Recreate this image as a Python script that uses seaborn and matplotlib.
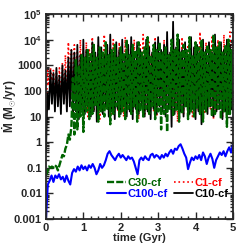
import numpy as np
import matplotlib
matplotlib.use("Agg")
import matplotlib.pyplot as plt
from matplotlib.ticker import FixedLocator, FixedFormatter, MultipleLocator, LogLocator, NullFormatter
import seaborn as sns

# log10 of accretion rate (Msun/yr), sampled every 0.04 Gyr from 0 to 5
red_c1 = [0.5, 2.8, 2.2, 2.9, 2.4, 2.8, 1.9, 2.7, 1.6, 2.9,
          1.5, 3.1, 1.7, 3.4, 1.4, 3.9, 1.8, 3.6, 1.2, 3.8,
          1.5, 3.5, 1.1, 4.0, 1.6, 3.3, 1.3, 3.9, 1.0, 3.6,
          1.4, 4.1, 1.2, 3.4, 1.7, 3.8, 0.9, 3.5, 1.5, 4.2,
          1.3, 3.7, 1.6, 3.3, 1.1, 4.0, 1.4, 3.6, 1.2, 3.9,
          1.5, 3.4, 1.0, 4.1, 1.3, 3.7, 1.6, 3.5, 1.2, 4.0,
          1.4, 3.3, 0.9, 3.8, 1.5, 4.2, 1.1, 3.6, 1.3, 3.9,
          1.6, 3.5, 1.2, 4.1, 1.0, 3.7, 1.4, 3.4, 1.5, 4.0,
          1.1, 3.8, 1.3, 3.5, 1.6, 4.2, 1.2, 3.6, 0.8, 3.9,
          1.4, 4.1, 1.1, 3.4, 1.5, 3.8, 1.3, 4.0, 1.0, 3.7,
          1.6, 3.5, 1.2, 4.3, 1.4, 3.6, 1.1, 3.9, 1.5, 3.4,
          1.3, 4.1, 0.9, 3.7, 1.2, 4.0, 1.6, 3.5, 1.0, 4.2,
          1.4, 3.8, 1.2, 4.3, 1.5, 3.9]

black_c10 = [-0.4, 1.9, 1.3, 2.8, 1.5, 2.7, 1.2, 2.9, 1.4, 2.6,
             1.1, 3.0, 1.5, 2.8, 1.2, 3.3, 1.4, 3.6, 1.0, 3.5,
             1.2, 3.8, 0.9, 3.4, 1.3, 4.0, 1.1, 3.6, 1.4, 3.3,
             1.0, 3.9, 1.2, 3.5, 0.8, 4.1, 1.3, 3.7, 1.1, 3.4,
             1.4, 3.8, 1.0, 4.2, 1.2, 3.5, 0.9, 3.9, 1.3, 3.6,
             1.1, 4.0, 1.4, 3.4, 1.0, 3.8, 1.2, 4.1, 0.9, 3.5,
             1.3, 3.9, 1.1, 3.6, 1.4, 3.3, 1.0, 4.0, 1.2, 3.7,
             0.9, 3.5, 1.3, 3.9, 1.1, 4.1, 1.4, 3.6, 1.2, 3.8,
             1.0, 4.3, 1.3, 3.5, 0.6, 4.7, 1.1, 3.7, 1.3, 4.0,
             1.2, 3.6, 1.0, 3.9, 1.4, 3.4, 1.1, 4.1, 1.3, 3.7,
             0.9, 3.8, 1.2, 3.5, 0.7, 4.0, 1.3, 3.6, 1.1, 3.9,
             1.4, 3.5, 1.0, 4.2, 1.2, 3.7, 1.3, 3.9, 0.9, 3.6,
             1.2, 4.0, 1.1, 3.8, 1.3, 3.5]

green_c30 = [-1.3, -1.15, -0.95, -1.0, -0.95, -1.0, -0.9, -0.95, -1.1, -0.9,
             -0.7, -0.5, -0.55, -0.25, -0.1, 0.3, 0.1, 0.6, 2.5, 0.3,
             3.2, 0.5, 3.0, 1.0, 3.4, 0.4, 3.3, 1.2, 3.6, 0.9,
             3.5, 1.1, 3.8, 1.4, 3.3, 0.8, 3.7, 1.2, 3.5, 1.0,
             3.9, 1.3, 3.4, 0.7, 3.6, 1.1, 3.8, 1.4, 3.3, 1.0,
             3.7, 1.2, 3.5, 0.9, 4.0, 1.3, 3.4, 1.1, 3.8, 1.4,
             3.6, 0.8, 3.9, 1.2, 3.5, 1.0, 3.7, 1.3, 4.1, 1.1,
             3.4, 1.4, 3.8, 0.9, 3.6, 1.2, 3.9, 0.5, 3.5, 1.1,
             3.7, 0.4, 3.4, 1.3, 4.0, 1.0, 3.6, 1.2, 4.2, 0.8,
             3.5, 1.1, 3.8, 1.4, 3.6, 0.9, 4.1, 1.2, 3.4, 1.0,
             3.9, 1.3, 3.7, 1.1, 4.0, 0.8, 3.5, 1.2, 3.8, 1.4,
             3.6, 1.0, 4.2, 1.1, 3.7, 1.3, 3.9, 0.9, 3.5, 1.2,
             3.8, 0.6, 4.0, 1.1, 3.6, 1.3]

# log10 of accretion rate, sampled every 0.05 Gyr from 0 to 5
blue_c100 = [-3.0, -1.65, -1.5, -1.3, -1.55, -1.3, -1.4, -1.25, -1.45, -1.35,
             -1.55, -1.3, -1.5, -1.65, -1.2, -1.05, -1.15, -0.95, -1.1, -0.9,
             -1.05, -0.95, -1.1, -0.9, -1.0, -0.85, -1.0, -1.25, -1.1, -0.85,
             -1.0, -0.9, -0.7, -0.45, -0.35, -0.5, -0.6, -0.7, -0.55, -0.45,
             -0.6, -0.5, -0.6, -0.7, -0.55, -0.65, -0.6, -0.75, -1.0, -1.25,
             -0.7, -0.6, -0.7, -0.55, -0.65, -0.7, -0.5, -0.45, -0.6, -0.5,
             -0.55, -0.65, -0.5, -0.6, -0.45, -0.55, -0.4, -0.3, -0.45, -0.25,
             -0.3, -0.15, -0.08, -0.25, -0.45, -0.6, -1.05, -0.8, -0.6, -0.7,
             -0.55, -0.65, -0.5, -0.7, -0.4, -0.55, -0.85, -0.6, -0.45, -0.65,
             -1.0, -0.7, -0.55, -0.4, -0.5, -0.35, -0.55, -0.35, -0.2, -0.4,
             -0.1]

t_fine = np.linspace(0, 5, len(red_c1))
t_blue = np.linspace(0, 5, len(blue_c100))

ytick_vals = [1e-3, 1e-2, 1e-1, 1, 10, 100, 1000, 1e4, 1e5]
ytick_labels = ["0.001", "0.01", "0.1", "1", "10", "100", "1000",
                r"$\mathbf{10^4}$", r"$\mathbf{10^5}$"]

sns.set_style("ticks")
plt.rcParams["font.family"] = ["Liberation Sans", "DejaVu Sans"]
plt.rcParams["font.weight"] = "bold"
plt.rcParams["mathtext.fontset"] = "custom"
plt.rcParams["mathtext.rm"] = "Liberation Sans:bold"
plt.rcParams["mathtext.it"] = "Liberation Sans:bold"
plt.rcParams["mathtext.bf"] = "Liberation Sans:bold"

fig = plt.figure(figsize=(2.47, 2.47), dpi=100)
ax = fig.add_axes([0.186, 0.113, 0.757, 0.83])

sns.lineplot(x=t_fine, y=10 ** np.array(red_c1), ax=ax, color="red",
             linestyle=":", lw=1.2, label="C1-cf")
sns.lineplot(x=t_fine, y=10 ** np.array(black_c10), ax=ax, color="black",
             linestyle="-", lw=1.3, label="C10-cf")
sns.lineplot(x=t_fine, y=10 ** np.array(green_c30), ax=ax, color="#006400",
             linestyle=(0, (3, 0.9)), lw=1.7, label="C30-cf")
sns.lineplot(x=t_blue, y=10 ** np.array(blue_c100), ax=ax, color="blue",
             linestyle="-", lw=1.5, label="C100-cf")

ax.set_yscale("log")
ax.set_xlim(0, 5)
ax.set_ylim(1e-3, 1e5)
ax.yaxis.set_major_locator(FixedLocator(ytick_vals))
ax.yaxis.set_major_formatter(FixedFormatter(ytick_labels))
ax.yaxis.set_minor_locator(LogLocator(base=10, subs=np.arange(2, 10), numticks=20))
ax.yaxis.set_minor_formatter(NullFormatter())
ax.xaxis.set_major_locator(MultipleLocator(1))
ax.xaxis.set_minor_locator(MultipleLocator(0.2))

ax.tick_params(which="both", direction="in", top=True, right=True,
               labelsize=8, width=1.0, pad=3)
ax.tick_params(which="major", length=5)
ax.tick_params(which="minor", length=2.5)
for s in ax.spines.values():
    s.set_linewidth(1.3)

ax.set_xlabel("time (Gyr)", fontsize=8, fontweight="bold", labelpad=0)
ax.set_ylabel("Ṁ (M$_{\\odot}$/yr)", fontsize=8.5, fontweight="bold")
ax.yaxis.set_label_coords(-0.15, 0.55)

h, l = ax.get_legend_handles_labels()
order = [2, 3, 0, 1]
ax.legend([h[i] for i in order], [l[i] for i in order], ncol=2, frameon=False,
          loc="lower right", bbox_to_anchor=(1.02, 0.06), fontsize=8,
          labelcolor="linecolor", handlelength=1.7, handletextpad=0.2,
          columnspacing=0.5, labelspacing=0.1, borderpad=0.2)

fig.savefig("out.png", dpi=100)
